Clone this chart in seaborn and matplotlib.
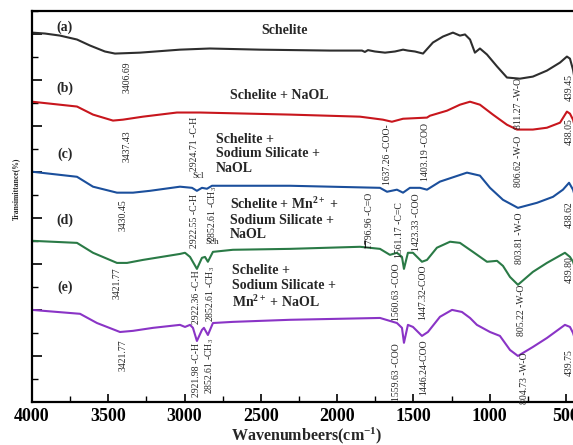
import matplotlib
matplotlib.use("Agg")
import matplotlib.pyplot as plt
from matplotlib.ticker import MultipleLocator, NullFormatter
import numpy as np
import pandas as pd
import seaborn as sns

# ---------------- data (wavenumber cm-1, transmittance offset units) ----------------
wn_a = [4000, 3915, 3816, 3705, 3620, 3522, 3456, 3292, 3030, 2834, 2506, 2047, 1837, 1818, 1798,
        1752, 1686, 1621, 1568, 1536, 1490, 1437, 1372, 1306, 1241, 1195, 1162, 1129, 1097, 1064,
        1018, 952, 887, 802, 717, 625, 539, 494, 474, 454, 440]
t_a = [16.04, 16.00, 15.91, 15.74, 15.48, 15.22, 15.13, 15.17, 15.30, 15.35, 15.30, 15.26, 15.26, 15.20, 15.28,
       15.22, 15.17, 15.22, 15.30, 15.26, 15.22, 15.13, 15.61, 15.87, 16.04, 15.91, 15.96, 15.74, 15.17, 15.35,
       15.09, 14.57, 14.09, 14.04, 14.13, 14.39, 14.74, 15.00, 14.91, 14.43, 13.90]

wn_b = [4000, 3705, 3600, 3469, 3404, 3273, 3050, 2899, 2309, 1850, 1700, 1641, 1568, 1411, 1392,
        1280, 1195, 1129, 1064, 979, 887, 821, 717, 625, 539, 494, 474, 454, 440]
t_b = [13.04, 12.83, 12.48, 12.22, 12.26, 12.39, 12.57, 12.57, 12.48, 12.39, 12.26, 12.17, 12.30, 12.35, 12.43,
       12.65, 12.91, 13.04, 12.91, 12.48, 12.04, 11.83, 11.83, 11.91, 12.13, 12.61, 12.52, 12.26, 11.90]

wn_c = [4000, 3705, 3600, 3443, 3338, 3227, 3030, 2951, 2919, 2886, 2853, 2820, 2309, 1719, 1673,
        1608, 1568, 1523, 1457, 1411, 1326, 1149, 1064, 998, 913, 815, 690, 585, 520, 480, 454, 440]
t_c = [10.00, 9.78, 9.35, 9.09, 9.09, 9.17, 9.35, 9.30, 9.17, 9.30, 9.26, 9.39, 9.39, 9.30, 9.13,
       9.22, 9.09, 9.30, 9.30, 9.22, 9.57, 9.96, 9.83, 9.30, 8.78, 8.43, 8.65, 8.91, 9.22, 9.52, 9.22, 8.90]

wn_d = [4000, 3705, 3600, 3443, 3377, 3273, 3030, 2997, 2964, 2919, 2886, 2866, 2847, 2814, 2683,
        2309, 1850, 1719, 1654, 1608, 1575, 1562, 1536, 1503, 1444, 1411, 1346, 1260, 1195, 1110,
        1018, 952, 913, 867, 815, 717, 625, 507, 474, 454, 440]
t_d = [7.00, 6.91, 6.48, 6.04, 6.04, 6.17, 6.43, 6.48, 6.30, 5.78, 6.26, 6.30, 6.09, 6.52, 6.61,
       6.65, 6.74, 6.65, 6.39, 6.48, 6.30, 5.78, 6.48, 6.48, 6.09, 6.17, 6.70, 6.96, 6.91, 6.52,
       6.09, 6.13, 5.91, 5.43, 5.09, 5.65, 6.04, 6.48, 6.30, 6.09, 5.80]

wn_e = [4000, 3685, 3574, 3423, 3338, 3207, 3030, 2997, 2964, 2945, 2919, 2886, 2873, 2847, 2814,
        2683, 2309, 1719, 1608, 1575, 1562, 1536, 1503, 1444, 1405, 1326, 1247, 1182, 1129, 1084,
        998, 933, 867, 815, 717, 625, 507, 474, 454, 440]
t_e = [4.00, 3.83, 3.43, 3.04, 3.09, 3.22, 3.35, 3.26, 3.35, 3.22, 2.65, 3.13, 3.22, 2.91, 3.43,
       3.48, 3.57, 3.65, 3.43, 3.22, 2.57, 3.35, 3.26, 2.87, 3.04, 3.70, 4.00, 3.91, 3.65, 3.35,
       3.04, 2.87, 2.26, 2.00, 2.39, 2.78, 3.35, 3.26, 3.00, 2.70]

series_keys = ["a", "b", "c", "d", "e"]
series_wn = [wn_a, wn_b, wn_c, wn_d, wn_e]
series_t = [t_a, t_b, t_c, t_d, t_e]
series_colors = ["#2e2e2e", "#c8161d", "#1b4f9c", "#2a7a46", "#8a34c6"]

letter_labels = ["(a)", "(b)", "(c)", "(d)", "(e)"]
sample_names = [
    "Schelite",
    "Schelite + NaOL",
    "Schelite +\nSodium Silicate +\nNaOL",
    "Schelite + Mn$^{\\mathbf{2+}}$ +\nSodium Silicate +\nNaOL",
    "Schelite +\nSodium Silicate +\nMn$^{\\mathbf{2+}}$ + NaOL",
]

peak_texts = [
    "3406.69", "811.27 -W-O", "439.45",
    "3437.43", "2924.71 -C-H", "1637.26 -COO-", "1403.19 -COO", "806.62 -W-O", "438.05",
    "3430.45", "2922.55 -C-H", "2852.61 -CH$_3$", "1796.96 -C=O", "1561.17 -C=C", "1423.33 -COO",
    "803.81 -W-O", "438.62",
    "3421.77", "2922.36 -C-H", "2852.61 -CH$_3$", "1560.63 -COO", "1447.32-COO", "805.22 -W-O", "439.80",
    "3421.77", "2921.98 -C-H", "2852.61 -CH$_3$", "1559.63 -COO", "1446.24-COO", "804.73 -W-O", "439.75",
]
peak_pos = [
    (3377, 14.09), (808, 12.96), (480, 13.65),
    (3377, 11.13), (2932, 11.22), (1667, 10.74), (1424, 10.87), (808, 10.43), (480, 11.74),
    (3404, 8.13), (2932, 7.87), (2814, 8.17), (1785, 7.87), (1588, 7.48), (1477, 7.83),
    (802, 7.13), (480, 8.13),
    (3443, 5.17), (2919, 4.57), (2827, 4.70), (1608, 4.78), (1437, 4.78), (789, 4.00), (480, 5.74),
    (3404, 2.04), (2919, 1.39), (2833, 1.57), (1608, 1.30), (1431, 1.52), (769, 1.04), (480, 1.70),
]

# ---------------- style ----------------
sns.set_theme(style="ticks")
plt.rcParams["font.family"] = ["Liberation Serif", "DejaVu Serif"]
plt.rcParams["mathtext.fontset"] = "custom"
plt.rcParams["mathtext.rm"] = "Liberation Serif"
plt.rcParams["mathtext.it"] = "Liberation Serif:italic"
plt.rcParams["mathtext.bf"] = "Liberation Serif:bold"

fig = plt.figure(figsize=(5.73, 4.45), dpi=100)
ax = fig.add_axes([0.0558, 0.0966, 0.9586, 0.8798])

df = pd.concat([
    pd.DataFrame({"wn": w, "T": t, "sample": k})
    for k, w, t in zip(series_keys, series_wn, series_t)
], ignore_index=True)

sns.lineplot(data=df, x="wn", y="T", hue="sample", palette=dict(zip(series_keys, series_colors)),
             sort=False, estimator=None, linewidth=1.5, legend=False, ax=ax)

ax.set_xlim(4000, 400)
ax.set_ylim(0, 17)

# ticks
ax.xaxis.set_major_locator(MultipleLocator(500))
ax.xaxis.set_minor_locator(MultipleLocator(250))
ax.yaxis.set_major_locator(MultipleLocator(2))
ax.yaxis.set_minor_locator(MultipleLocator(1))
ax.yaxis.set_major_formatter(NullFormatter())
ax.tick_params(axis="both", which="both", direction="in", colors="black")
ax.tick_params(axis="x", which="major", length=6, width=1.2, labelsize=13, pad=4)
ax.tick_params(axis="x", which="minor", length=4, width=1.0)
ax.tick_params(axis="y", which="major", length=7, width=1.2)
ax.tick_params(axis="y", which="minor", length=4, width=1.0)
for lab in ax.get_xticklabels():
    lab.set_fontweight("bold")
ax.tick_params(right=False, top=False)
for s in ["left", "bottom", "top", "right"]:
    ax.spines[s].set_linewidth(1.6)
    ax.spines[s].set_color("black")

ax.set_xlabel("Wavenumbeers(cm$^{\\mathbf{-1}}$)", fontsize=11.5, fontweight="bold", labelpad=1)
ax.set_ylabel("Transimittance(%)", fontsize=5.5, fontweight="bold", labelpad=6)
ax.yaxis.set_label_coords(-0.021, 0.545)

# letter labels and sample names
letter_y = [16.26, 13.61, 10.74, 7.91, 5.00]
for lab, yy in zip(letter_labels, letter_y):
    ax.text(3784, yy, lab, fontsize=10, fontweight="bold", ha="center", va="center")

name_pos = [(2499, 16.13), (2702, 13.30), (2794, 10.78), (2702, 7.96), (2689, 5.00)]
for name, (xx, yy) in zip(sample_names, name_pos):
    ax.text(xx, yy, name, fontsize=10, fontweight="bold", ha="left", va="center", linespacing=1.15)

# peak annotations
for txt, (xx, yy) in zip(peak_texts, peak_pos):
    ax.text(xx, yy, txt, fontsize=7, rotation=90, ha="center", va="center")

ax.text(2912, 9.83, "Scl", fontsize=6.5, ha="center", va="center")
ax.text(2820, 6.96, "Sch", fontsize=6.5, ha="center", va="center")
ax.annotate("", xy=(1815, 6.7), xytext=(1815, 7.0),
            arrowprops=dict(arrowstyle="-", lw=0.7, color="black", shrinkA=0, shrinkB=0))

fig.savefig("out.png", dpi=100)
